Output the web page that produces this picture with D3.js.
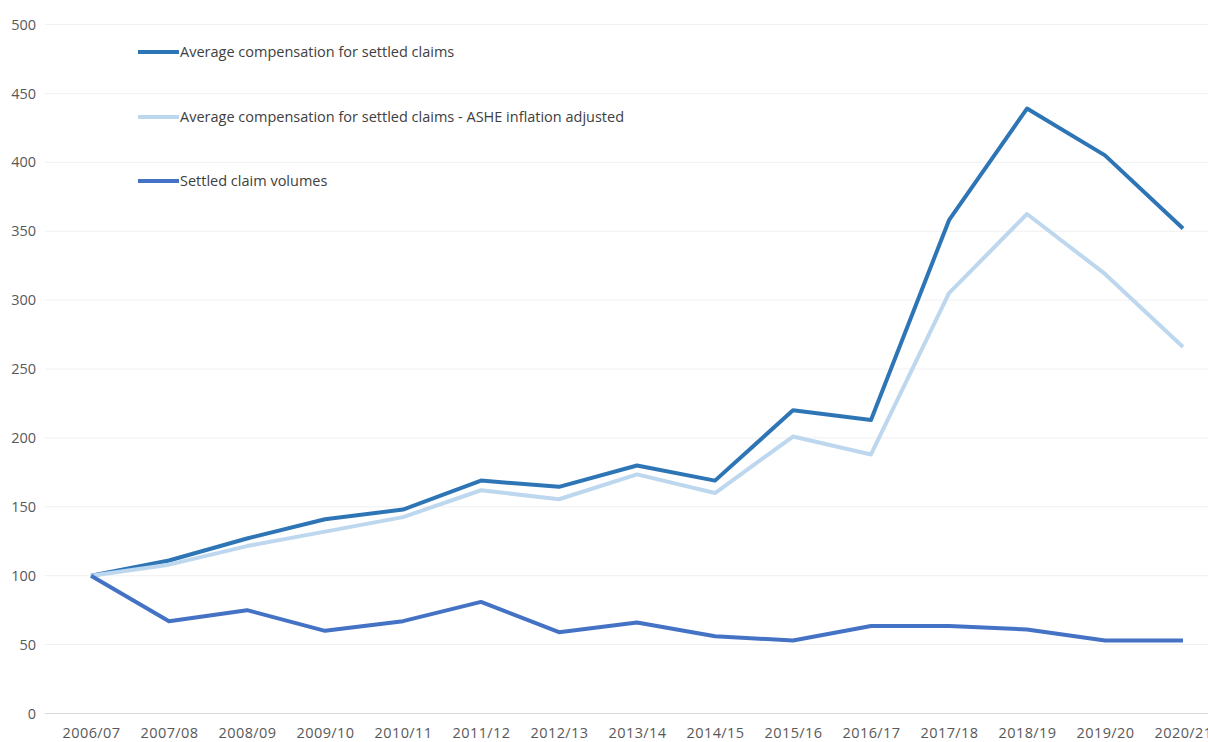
<!DOCTYPE html>
<html>
<head>
<meta charset="utf-8">
<script src="https://cdn.jsdelivr.net/npm/d3@7"></script>
<style>
  html, body { margin: 0; padding: 0; background: #fff; }
  svg { display: block; font-family: "Open Sans", "Noto Sans", sans-serif; }
</style>
</head>
<body>
<svg id="chart" width="1208" height="742"></svg>
<script>
// Index values (2006/07 = 100)
const years = ["2006/07","2007/08","2008/09","2009/10","2010/11","2011/12","2012/13",
               "2013/14","2014/15","2015/16","2016/17","2017/18","2018/19","2019/20","2020/21"];
const avgCompensation = [100,111,127,141,148,169,164.5,180,169,220,213,358,439,405,352];
const avgCompensationAdj = [100,108,121.5,132,142.5,162,155.5,173.5,160,201,188,305,362.5,319,266];
const claimVolumes = [100,67,75,60,67,81,59,66,56,53,63.5,63.5,61,53,53];
const yTicks = [0,50,100,150,200,250,300,350,400,450,500];
const seriesNames = [
  "Average compensation for settled claims",
  "Average compensation for settled claims - ASHE inflation adjusted",
  "Settled claim volumes"
];

const series = [
  { name: seriesNames[0], values: avgCompensation, color: "#2E75B6" },
  { name: seriesNames[1], values: avgCompensationAdj, color: "#BDD7EE" },
  { name: seriesNames[2], values: claimVolumes, color: "#4472C4" }
];

const svg = d3.select("#chart");
const gridLeft = 45, gridRight = 1208;

const x = d3.scalePoint().domain(years).range([91, 1183]);
const y = d3.scaleLinear().domain([0, 500]).range([713.5, 24.5]);

// horizontal gridlines
svg.append("g").selectAll("line")
  .data(yTicks.filter(d => d > 0))
  .join("line")
  .attr("x1", gridLeft).attr("x2", gridRight)
  .attr("y1", d => y(d)).attr("y2", d => y(d))
  .attr("stroke", "#f0f0f0").attr("stroke-width", 1);

// category axis baseline
svg.append("line")
  .attr("x1", gridLeft).attr("x2", gridRight)
  .attr("y1", y(0)).attr("y2", y(0))
  .attr("stroke", "#d9d9d9").attr("stroke-width", 1);

// y axis labels
const yAxis = d3.axisLeft(y).tickValues(yTicks).tickSize(0).tickPadding(0);
const gy = svg.append("g").attr("transform", "translate(36,0)").call(yAxis);
gy.select(".domain").remove();
gy.selectAll("text").attr("fill", "#595959").style("font-size", "14.5px")
  .style("font-family", "'Open Sans', sans-serif");

// x axis labels (the last one runs past the right edge)
const xAxis = d3.axisBottom(x).tickSize(0).tickPadding(0);
const gx = svg.append("g").attr("transform", "translate(0,728)").call(xAxis);
gx.select(".domain").remove();
gx.selectAll("text").attr("fill", "#595959").style("font-size", "14.5px")
  .style("letter-spacing", "0.4px")
  .style("font-family", "'Open Sans', sans-serif");

// series lines
const line = d3.line().x((d, i) => x(years[i])).y(d => y(d));
svg.append("g").selectAll("path")
  .data(series)
  .join("path")
  .attr("d", d => line(d.values))
  .attr("fill", "none")
  .attr("stroke", d => d.color)
  .attr("stroke-width", 4)
  .attr("stroke-linejoin", "round");

// legend
const legendY = [52, 117, 181];
const lg = svg.append("g").selectAll("g")
  .data(series)
  .join("g")
  .attr("transform", (d, i) => `translate(138,${legendY[i]})`);
lg.append("line")
  .attr("x1", 0).attr("x2", 41).attr("y1", 0).attr("y2", 0)
  .attr("stroke", d => d.color).attr("stroke-width", 4);
lg.append("text")
  .attr("x", 42).attr("y", 0).attr("dy", "0.35em")
  .attr("fill", "#404040").style("font-size", "14.5px")
  .text(d => d.name);
</script>
</body>
</html>
